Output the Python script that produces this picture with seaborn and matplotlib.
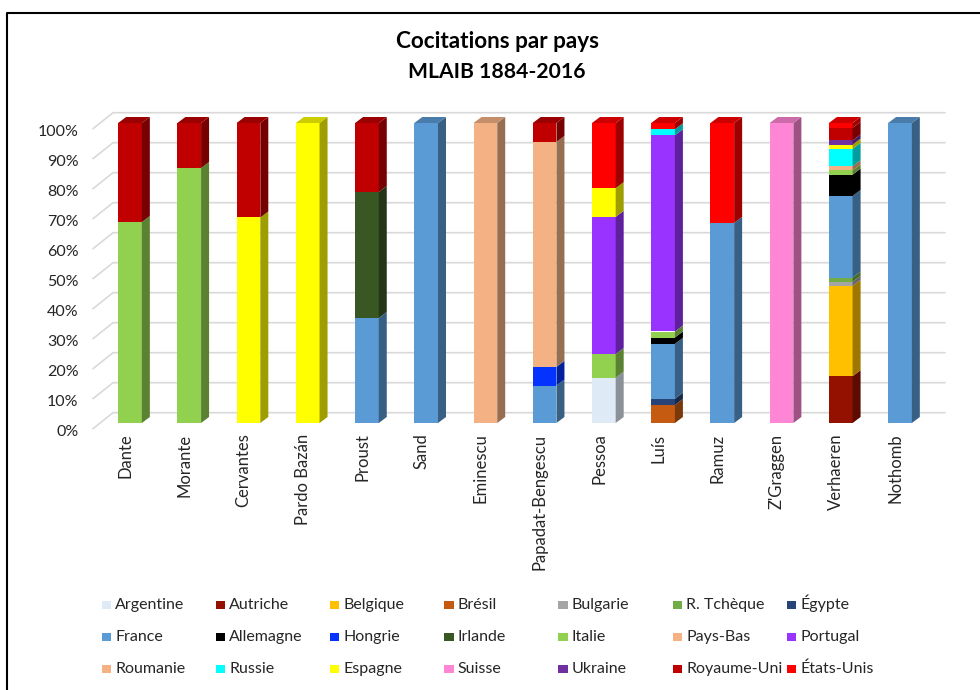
import matplotlib
matplotlib.use("Agg")
import matplotlib.pyplot as plt
import matplotlib.colors as mcolors
from matplotlib.lines import Line2D
from matplotlib.patches import Polygon, Rectangle
from matplotlib.transforms import ScaledTranslation
import pandas as pd
import seaborn as sns

authors = ["Dante", "Morante", "Cervantes", "Pardo Bazán", "Proust", "Sand", "Eminescu",
           "Papadat-Bengescu", "Pessoa", "Luís", "Ramuz", "Z'Graggen", "Verhaeren", "Nothomb"]

# parts en %, meme ordre que authors
argentine = [0, 0, 0, 0, 0, 0, 0, 0, 15.1, 0, 0, 0, 0, 0]
autriche = [0, 0, 0, 0, 0, 0, 0, 0, 0, 0, 0, 0, 15.6, 0]
belgique = [0, 0, 0, 0, 0, 0, 0, 0, 0, 0, 0, 0, 30.1, 0]
bresil = [0, 0, 0, 0, 0, 0, 0, 0, 0, 6.0, 0, 0, 0, 0]
bulgarie = [0, 0, 0, 0, 0, 0, 0, 0, 0, 0, 0, 0, 1.4, 0]
tcheque = [0, 0, 0, 0, 0, 0, 0, 0, 0, 0, 0, 0, 1.4, 0]
egypte = [0, 0, 0, 0, 0, 0, 0, 0, 0, 2.1, 0, 0, 0, 0]
france = [0, 0, 0, 0, 35.0, 100, 0, 12.5, 0, 18.3, 66.7, 0, 27.2, 100]
allemagne = [0, 0, 0, 0, 0, 0, 0, 0, 0, 2.1, 0, 0, 7.1, 0]
hongrie = [0, 0, 0, 0, 0, 0, 0, 6.2, 0, 0, 0, 0, 0, 0]
irlande = [0, 0, 0, 0, 42.0, 0, 0, 0, 0, 0, 0, 0, 0, 0]
italie = [67.0, 85.0, 0, 0, 0, 0, 0, 0, 7.9, 2.0, 0, 0, 1.4, 0]
pays_bas = [0, 0, 0, 0, 0, 0, 0, 75.0, 0, 0, 0, 0, 0, 0]
portugal = [0, 0, 0, 0, 0, 0, 0, 0, 45.7, 65.4, 0, 0, 0, 0]
roumanie = [0, 0, 0, 0, 0, 0, 100, 0, 0, 0, 0, 0, 1.4, 0]
russie = [0, 0, 0, 0, 0, 0, 0, 0, 0, 2.0, 0, 0, 5.8, 0]
espagne = [0, 0, 68.5, 100, 0, 0, 0, 0, 9.6, 0, 0, 0, 1.4, 0]
suisse = [0, 0, 0, 0, 0, 0, 0, 0, 0, 0, 0, 100, 0, 0]
ukraine = [0, 0, 0, 0, 0, 0, 0, 0, 0, 0, 0, 0, 1.4, 0]
royaume_uni = [33.0, 15.0, 31.5, 0, 23.0, 0, 0, 6.3, 0, 0, 0, 0, 4.2, 0]
etats_unis = [0, 0, 0, 0, 0, 0, 0, 0, 21.7, 2.1, 33.3, 0, 1.6, 0]

series_names = ["Argentine", "Autriche", "Belgique", "Brésil", "Bulgarie", "R. Tchèque", "Égypte",
                "France", "Allemagne", "Hongrie", "Irlande", "Italie", "Pays-Bas", "Portugal",
                "Roumanie", "Russie", "Espagne", "Suisse", "Ukraine", "Royaume-Uni", "États-Unis"]
series_values = [argentine, autriche, belgique, bresil, bulgarie, tcheque, egypte,
                 france, allemagne, hongrie, irlande, italie, pays_bas, portugal,
                 roumanie, russie, espagne, suisse, ukraine, royaume_uni, etats_unis]
series_colors = ["#DEEAF6", "#941100", "#FFC000", "#C55A11", "#A5A5A5", "#70AD47", "#264478",
                 "#5B9BD5", "#000000", "#0432FF", "#385723", "#92D050", "#F4B183", "#9933FF",
                 "#F4B183", "#00FFFF", "#FFFF00", "#FF85D5", "#7030A0", "#C00000", "#FF0000"]
y_ticks = list(range(0, 101, 10))

sns.set_theme(style="white")
plt.rcParams["font.family"] = ["Lato", "DejaVu Sans"]

W, H = 980, 690
fig = plt.figure(figsize=(9.8, 6.9), dpi=100)
# plan avant : x=93..945, 0% a y=428.7, 100% a y=128.7
top_px = 108
ax = fig.add_axes([93 / W, 1 - 428.7 / H, (945 - 93) / W, (428.7 - top_px) / H])

lift = 1.9      # base des barres au-dessus du plan avant
depth_x = 0.135
depth_y = 2.0
bottom = [lift] * len(authors)


def shade(color, factor):
    r, g, b = mcolors.to_rgb(color)
    return (r * factor, g * factor, b * factor)


for name, values, color in zip(series_names, series_values, series_colors):
    df = pd.DataFrame({"auteur": authors, "part": values})
    sns.barplot(data=df, x="auteur", y="part", order=authors, bottom=bottom, color=color,
                saturation=1, width=0.4, linewidth=0, errorbar=None, ax=ax, zorder=3)
    for rect, v in zip(ax.containers[-1], values):
        if v <= 0:
            continue
        x0, y0 = rect.get_x(), rect.get_y()
        x1, y1 = x0 + rect.get_width(), y0 + rect.get_height()
        side = [(x1, y0), (x1 + depth_x, y0 + depth_y), (x1 + depth_x, y1 + depth_y), (x1, y1)]
        ax.add_patch(Polygon(side, closed=True, fc=shade(color, 0.62), ec="none", zorder=3))
        if y1 > 100 + lift - 0.01:
            roof = [(x0, y1), (x0 + depth_x, y1 + depth_y), (x1 + depth_x, y1 + depth_y), (x1, y1)]
            ax.add_patch(Polygon(roof, closed=True, fc=shade(color, 0.8), ec="none", zorder=3))
    bottom = [b + v for b, v in zip(bottom, values)]

ax.set_xlim((93 - 130) / 59.23, (945 - 130) / 59.23)
ax.set_ylim(0, (428.7 - top_px) / 3)

# grille en perspective : diagonale puis fond
wall_x = 20 / 59.23
wall_y = 16 / 3
x_left = ax.get_xlim()[0]
x_right = ax.get_xlim()[1]
for v in y_ticks:
    ax.plot([x_left, x_left + wall_x, x_right], [v, v + wall_y, v + wall_y],
            color="#D9D9D9", lw=1.2, zorder=1, clip_on=False)

for s in ax.spines.values():
    s.set_visible(False)
ax.set_xlabel("")
ax.set_ylabel("")
ax.set_yticks(y_ticks)
ax.set_yticklabels([f"{v}%" for v in y_ticks], fontsize=11.5, color="#262626")
ax.set_xticks([i - 0.08 for i in range(len(authors))])
ax.set_xticklabels(authors, rotation=90, fontsize=12, color="#262626")
ax.tick_params(axis="y", length=0, pad=10.5)
ax.tick_params(axis="x", length=0, pad=3.5)
# labels y un peu sous la grille
shift = ScaledTranslation(0, -1.5 / 100, fig.dpi_scale_trans)
for lab in ax.get_yticklabels():
    lab.set_transform(lab.get_transform() + shift)

fig.text(497 / W, 1 - 41.5 / H, "Cocitations par pays", ha="center", va="center",
         fontsize=16.2, fontweight="bold", color="black")
fig.text(497 / W, 1 - 72 / H, "MLAIB 1884-2016", ha="center", va="center",
         fontsize=15.2, fontweight="bold", color="black")

# legende : 7 colonnes regulieres, remplie ligne par ligne
for i, (name, color) in enumerate(zip(series_names, series_colors)):
    row, col = divmod(i, 7)
    x_px = 101.5 + 114.2 * col
    base_px = 609 + 32 * row
    fig.add_artist(Rectangle((x_px / W, 1 - (base_px - 0.5) / H), 9.5 / W, 8 / H,
                             transform=fig.transFigure, fc=color, ec="none"))
    fig.text((x_px + 13.5) / W, 1 - base_px / H, name, ha="left", va="baseline",
             fontsize=11.5, color="#262626")

# cadre : seulement haut et gauche dans l'image
fig.add_artist(Line2D([7 / W, 7 / W, 1], [0, 1 - 13 / H, 1 - 13 / H], transform=fig.transFigure,
                      color="black", lw=1.5))

fig.savefig("out.png", dpi=100)
